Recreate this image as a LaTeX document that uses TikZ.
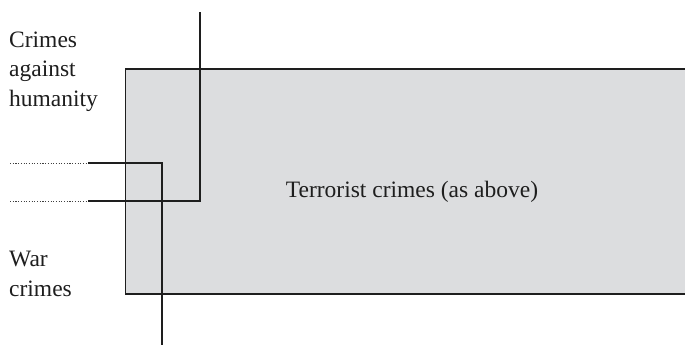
\documentclass[tikz,border=0pt]{standalone}
\usepackage{fontspec}
\setmainfont{Liberation Serif}
\definecolor{boxfill}{HTML}{DCDDDF}
\definecolor{ink}{HTML}{1E1E1E}
\begin{document}
\begin{tikzpicture}[x=1pt,y=-1pt,
  lbl/.style={inner sep=0pt, anchor=base west, align=left, text=ink,
    font=\fontsize{23.5}{29.5}\selectfont},
  frame/.style={draw=ink, line width=1.2pt, fill=boxfill},
  wire/.style={draw=ink, line width=1.1pt},
  dots/.style={draw=ink!85, line width=1pt, dash pattern=on 1.1pt off 1.6pt}]
\useasboundingbox (0,0) rectangle (685,346);
\path[frame] (125.5,69) rectangle (692,294);
\node[lbl] (cah) at (9,106) {Crimes\\against\\humanity};
\node[lbl] (war) at (9,296) {War\\crimes};
\node[lbl, anchor=base] (terr) at (412,197) {Terrorist crimes (as above)};
% connectors
\coordinate (d1s) at (10,163);
\coordinate (d1e) at (88,163);
\coordinate (c1) at (162,163);
\coordinate (e1) at (162,345);
\coordinate (d2s) at (10,201);
\coordinate (d2e) at (88,201);
\coordinate (c2) at (200,201);
\coordinate (e2) at (200,12);
\path[dots] (d1s) -- (d1e);
\path[dots] (d2s) -- (d2e);
\path[wire] (d1e) -- (c1) -- (e1);
\path[wire] (d2e) -- (c2) -- (e2);
\end{tikzpicture}
\end{document}
